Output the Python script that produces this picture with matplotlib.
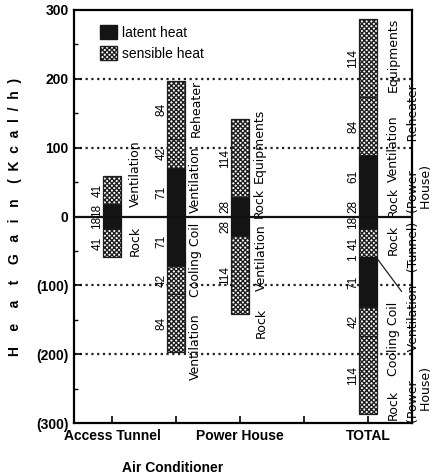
import matplotlib.pyplot as plt
import matplotlib.transforms as mtransforms
import numpy as np

plt.rcParams['font.family'] = ['Liberation Sans', 'DejaVu Sans']
plt.rcParams['hatch.linewidth'] = 1.0

categories = ['Access Tunnel', 'Air Conditioner', 'Power House', 'TOTAL']
slots = [1, 2, 3, 5]          # slot 4 is left empty
tick_labels = ['Access Tunnel', '', 'Power House', '', 'TOTAL']

# segments from zero outward, L = latent heat, S = sensible heat
pos_values = [[18, 41], [71, 42, 84], [28, 114], [28, 61, 84, 114]]
pos_kinds = [['L', 'S'], ['L', 'S', 'S'], ['L', 'S'], ['L', 'L', 'S', 'S']]
neg_values = [[18, 41], [71, 42, 84], [28, 114], [18, 41, 1, 71, 42, 114]]
neg_kinds = [['L', 'S'], ['L', 'S', 'S'], ['L', 'S'], ['L', 'S', 'L', 'L', 'S', 'S']]

# source captions next to the bars (x, y centre, text)
captions = [
    (1.37, 63, 'Ventilation'), (1.37, -36, 'Rock'),
    (2.31, 53, 'Ventilation'), (2.31, 157, 'Reheater'),
    (2.31, -63, 'Cooling Coil'), (2.31, -189, 'Ventilation'),
    (3.3, 20, 'Rock'), (3.3, 102, 'Equipments'),
    (3.33, -60, 'Ventilation'), (3.33, -154, 'Rock'),
    (5.39, 21, 'Rock'), (5.39, 99, 'Ventilation'), (5.39, 235, 'Equipments'),
    (5.39, -34, 'Rock'), (5.39, -177, 'Cooling Coil'), (5.39, -274, 'Rock'),
]

fig = plt.figure(figsize=(4.33, 4.75), dpi=100)
ax = fig.add_axes([0.171, 0.109, 0.781, 0.870])

w = 0.27
HATCH = 'xxxxxxx'
style = {'L': dict(color='#141414', edgecolor='#141414'),
         'S': dict(facecolor='white', edgecolor='#1e1e1e', hatch=HATCH)}

for i, x in enumerate(slots):
    for vals, kinds, sgn in [(pos_values[i], pos_kinds[i], 1), (neg_values[i], neg_kinds[i], -1)]:
        cum = 0
        for v, k in zip(vals, kinds):
            ax.bar(x, sgn * v, bottom=sgn * cum, width=w, linewidth=0.9, zorder=2, **style[k])
            ax.text(x - 0.23, sgn * (cum + v / 2), str(v), rotation=90, ha='center', va='center',
                    fontsize=8.5)
            cum += v

for x, y, t in captions:
    ax.text(x, y, t, rotation=90, ha='center', va='center', fontsize=9,
            family=['DejaVu Sans'])

ax.text(5.61, 5, '(Power ——Reheater\n House)', rotation=90, ha='left', va='bottom',
        fontsize=9, family=['DejaVu Sans'], multialignment='left', linespacing=1.0, clip_on=False)
ax.text(5.61, -300, '(Power ——Ventilation—(Tunnel)\n   House)', rotation=90, ha='left', va='bottom',
        fontsize=9, family=['DejaVu Sans'], multialignment='left', linespacing=1.0, clip_on=False)
ax.annotate('', xy=(5.13, -(18 + 41 + 0.5)), xytext=(5.55, -112),
            arrowprops=dict(arrowstyle='-', lw=0.9, color='#222222'))

for g in [-200, -100, 100, 200]:
    ax.axhline(g, color='#222222', linestyle=(0, (1, 1.6)), linewidth=1.6, zorder=0)
ax.axhline(0, color='#111111', linewidth=1.6, zorder=3)

ax.set_xlim(0.406, 5.69)
ax.set_ylim(-300, 300)
ax.set_yticks([300, 200, 100, 0, -100, -200, -300])
ax.set_yticklabels(['300', '200', '100', '0', '(100)', '(200)', '(300)'],
                   fontweight='bold', fontsize=10)
ax.set_yticks(np.arange(-250, 300, 100), minor=True)
ax.set_xticks([1, 2, 3, 4, 5])
ax.set_xticklabels(tick_labels, fontweight='bold', fontsize=10)
trans = mtransforms.blended_transform_factory(ax.transData, ax.transAxes)
ax.text(1.94, -0.108, categories[1], transform=trans, ha='center', va='center',
        fontweight='bold', fontsize=10)
ax.tick_params(direction='in', length=5, width=1.2, pad=4)
ax.tick_params(axis='y', which='minor', direction='in', length=3, width=1)
for s in ax.spines.values():
    s.set_linewidth(1.6)

ylab = ('H    e    a    t    '
        'G   a   i   n    '
        '(  K  c  a  l  /  h  )')
ax.set_ylabel(ylab, fontweight='bold', fontsize=10)
ax.yaxis.set_label_coords(-0.155, 0.50)

hl = plt.Rectangle((0, 0), 1, 1, color='#141414')
hs = plt.Rectangle((0, 0), 1, 1, facecolor='white', edgecolor='#1e1e1e', hatch=HATCH)
ax.legend([hl, hs], ['latent heat', 'sensible heat'], loc='upper left',
          bbox_to_anchor=(0.04, 0.995), frameon=False, handlelength=1.25, handleheight=1.25,
          handletextpad=0.3, labelspacing=0.45, fontsize=10)

fig.savefig('out.png', dpi=100)
